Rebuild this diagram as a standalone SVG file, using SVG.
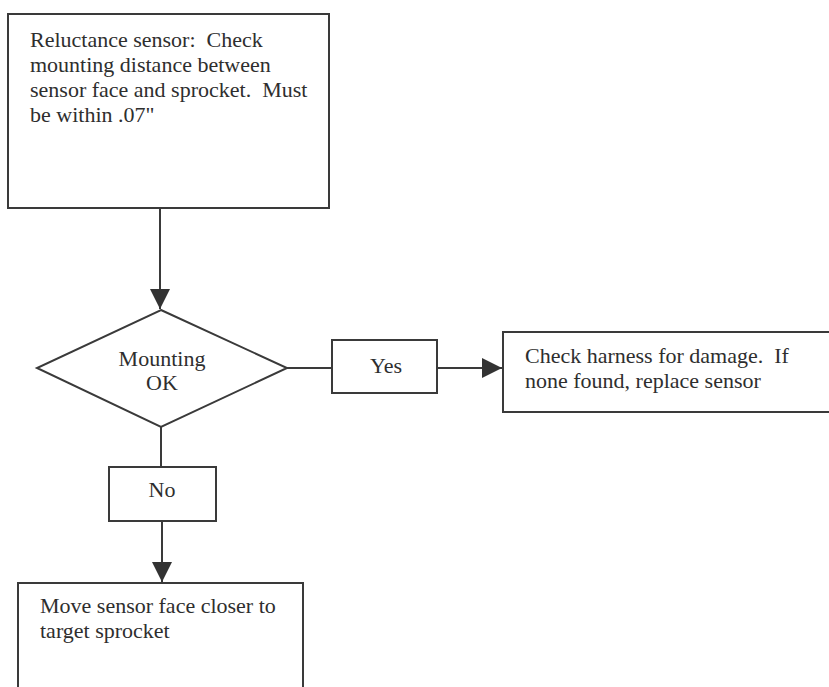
<svg xmlns="http://www.w3.org/2000/svg" width="829" height="687" viewBox="0 0 829 687">
  <style>
    .box { fill: #ffffff; stroke: #3a3a3a; stroke-width: 2; }
    .lbl { font-family: "Liberation Serif", "Times New Roman", serif; font-size: 22px; fill: #2e2e2e; white-space: pre; }
    .mid { text-anchor: middle; }
    .wire { fill: none; stroke: #3a3a3a; stroke-width: 2; }
  </style>
  <defs>
    <marker id="arrow" viewBox="0 0 20 20" refX="20" refY="10" markerWidth="20" markerHeight="20" markerUnits="userSpaceOnUse" orient="auto">
      <path d="M0,0 L20,10 L0,20 Z" fill="#333333"/>
    </marker>
  </defs>
  <rect width="829" height="687" fill="#ffffff"/>

  <g id="connectors">
    <line class="wire" x1="160" y1="208" x2="160" y2="309" marker-end="url(#arrow)"/>
    <line class="wire" x1="287" y1="368" x2="332" y2="368"/>
    <line class="wire" x1="437" y1="368" x2="502" y2="368" marker-end="url(#arrow)"/>
    <line class="wire" x1="161" y1="427" x2="161" y2="467"/>
    <line class="wire" x1="162" y1="521" x2="162" y2="582" marker-end="url(#arrow)"/>
  </g>

  <g id="reluctance-sensor">
    <rect class="box" x="8" y="14" width="321" height="194"/>
    <text class="lbl" x="30" y="47" xml:space="preserve">Reluctance sensor:  Check</text>
    <text class="lbl" x="30" y="72">mounting distance between</text>
    <text class="lbl" x="30" y="97" xml:space="preserve">sensor face and sprocket.  Must</text>
    <text class="lbl" x="30" y="122">be within .07"</text>
  </g>

  <g id="mounting-ok">
    <polygon class="box" points="161,310 287,368 161,427 37,368"/>
    <text class="lbl mid" x="162" y="366">Mounting</text>
    <text class="lbl mid" x="162" y="390">OK</text>
  </g>

  <g id="yes">
    <rect class="box" x="332" y="340" width="105" height="53"/>
    <text class="lbl mid" x="386" y="373">Yes</text>
  </g>

  <g id="check-harness">
    <rect class="box" x="503" y="332" width="340" height="80"/>
    <text class="lbl" x="525" y="363" xml:space="preserve">Check harness for damage.  If</text>
    <text class="lbl" x="525" y="388">none found, replace sensor</text>
  </g>

  <g id="no">
    <rect class="box" x="109" y="467" width="107" height="54"/>
    <text class="lbl mid" x="162" y="497">No</text>
  </g>

  <g id="move-sensor">
    <rect class="box" x="18" y="583" width="285" height="120"/>
    <text class="lbl" x="40" y="613">Move sensor face closer to</text>
    <text class="lbl" x="40" y="638">target sprocket</text>
  </g>
</svg>
